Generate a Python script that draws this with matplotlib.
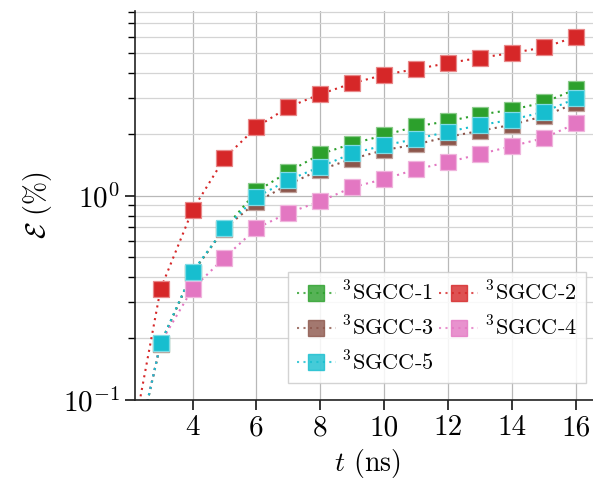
import matplotlib
matplotlib.use("Agg")
import matplotlib.pyplot as plt
from matplotlib.lines import Line2D
from matplotlib.colors import to_rgba
import numpy as np

plt.rcParams['font.family'] = ['cmr10']
plt.rcParams['mathtext.fontset'] = 'cm'
plt.rcParams['axes.formatter.use_mathtext'] = True
plt.rcParams['axes.unicode_minus'] = False

# ---- data ----
t = [3, 4, 5, 6, 7, 8, 9, 10, 11, 12, 13, 14, 15, 16]
t_pink = [4, 5, 6, 7, 8, 9, 10, 11, 12, 13, 14, 15, 16]

sgcc1 = [0.188, 0.42, 0.69, 1.05, 1.31, 1.60, 1.80, 1.98, 2.19, 2.32, 2.50, 2.64, 2.87, 3.33]
sgcc2 = [0.349, 0.851, 1.53, 2.17, 2.72, 3.15, 3.56, 3.92, 4.18, 4.47, 4.75, 5.01, 5.34, 6.02]
sgcc3 = [0.188, 0.42, 0.69, 0.931, 1.137, 1.341, 1.518, 1.675, 1.786, 1.946, 2.08, 2.23, 2.46, 2.85]
sgcc4 = [0.350, 0.497, 0.692, 0.825, 0.939, 1.10, 1.208, 1.347, 1.463, 1.601, 1.752, 1.918, 2.264]
sgcc5 = [0.189, 0.424, 0.692, 0.985, 1.194, 1.387, 1.614, 1.766, 1.90, 2.06, 2.22, 2.36, 2.58, 3.00]

# leading part of the dotted curves (below first marker)
tail_t = {'1': [2.5], '2': [2.3], '3': [2.5], '4': [2.5, 3.0], '5': [2.5]}
tail_v = {'1': [0.085], '2': [0.09], '3': [0.085], '4': [0.085, 0.19], '5': [0.085]}

labels = [r'$^3$SGCC-1', r'$^3$SGCC-2', r'$^3$SGCC-3', r'$^3$SGCC-4', r'$^3$SGCC-5']
colors = ['#2ca02c', '#d62728', '#8c564b', '#e377c2', '#17becf']
xticks = [4, 6, 8, 10, 12, 14, 16]

series = [('1', t, sgcc1), ('2', t, sgcc2), ('3', t, sgcc3), ('4', t_pink, sgcc4), ('5', t, sgcc5)]

W, H = 593, 486
fig = plt.figure(figsize=(W / 100, H / 100), dpi=100)
ax = fig.add_axes([135 / W, (H - 399.7) / H, 465 / W, (399.7 - 11) / H])

ls = (0, (1, 2.1))
handles = []
for (key, tt, vv), c, lab in zip(series, colors, labels):
    lt = list(tail_t[key]) + list(tt)
    lv = list(tail_v[key]) + list(vv)
    ax.plot(lt, lv, linestyle=ls, color=c, lw=1.5, zorder=2)
    rgba = to_rgba(c)
    light = tuple(0.55 * np.array(rgba[:3]) + 0.45) + (1.0,)
    ax.plot(tt, vv, linestyle='none', marker='s', ms=11.3, mfc=c, mec=light,
            mew=0.9, zorder=3)
    handles.append(Line2D([], [], linestyle=ls, color=c, lw=1.5, marker='s',
                          ms=11.3, mfc=c, mec=c, mew=1.0, alpha=0.8, label=lab))

ax.set_yscale('log')
ax.set_xlim(2.2, 16.75)
ax.set_ylim(0.1, 8.05)
ax.set_xticks(xticks)
ax.set_xticklabels([str(v) for v in xticks])

ax.grid(True, which='major', axis='both', color='#b8b8b8', lw=0.9, zorder=0)
ax.grid(True, which='minor', axis='y', color='#d4d4d4', lw=0.9, zorder=0)
ax.set_axisbelow(True)

for s in ['top', 'right']:
    ax.spines[s].set_visible(False)
for s in ['left', 'bottom']:
    ax.spines[s].set_linewidth(1.2)
    ax.spines[s].set_color('#222222')

ax.tick_params(which='major', length=7, width=1.1, labelsize=21, direction='out', pad=4)
ax.tick_params(which='minor', length=5, width=1.0, direction='out')
ax.tick_params(axis='x', which='minor', length=0)

ax.set_xlabel(r'$t$ (ns)', fontsize=20, labelpad=4)
ax.set_ylabel(r'$\mathcal{E}$ (%)', fontsize=20, labelpad=6)

order = [0, 2, 4, 1, 3]
leg = ax.legend([handles[i] for i in order], [labels[i] for i in order],
                ncol=2, loc='lower right', fontsize=16, handlelength=1.75,
                handletextpad=0.3, columnspacing=0.25, labelspacing=0.48,
                borderpad=0.4, fancybox=False, framealpha=0.85,
                edgecolor='#cccccc', bbox_to_anchor=(0.993, 0.014))
leg.get_frame().set_linewidth(1.0)

fig.savefig('out.png', dpi=100)
